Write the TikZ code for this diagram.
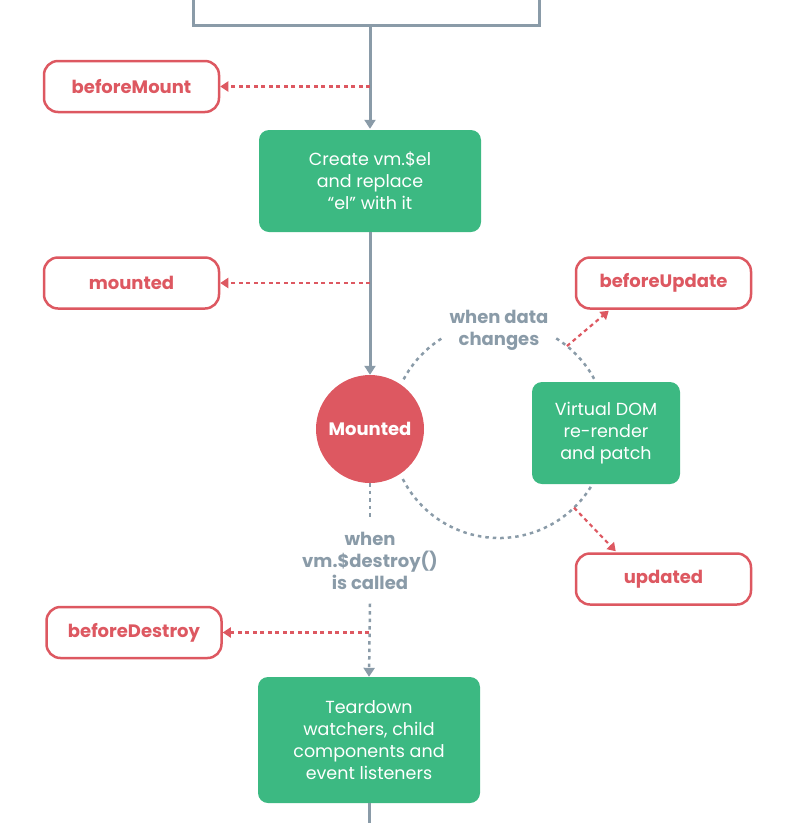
\documentclass[tikz,border=0pt]{standalone}
\usepackage{fontspec}
\setmainfont{Poppins}
\usetikzlibrary{arrows.meta,calc}

\definecolor{hookred}{RGB}{221,88,97}
\definecolor{stepgreen}{RGB}{60,185,130}
\definecolor{flowgray}{RGB}{138,155,168}

\begin{document}
\begin{tikzpicture}[x=1pt, y=-1pt,
  hook/.style={draw=hookred, line width=2.5pt, rounded corners=14pt,
    minimum width=175pt, minimum height=51pt, inner sep=0pt,
    text=hookred, font=\bfseries\fontsize{18}{20}\selectfont},
  stepbox/.style={fill=stepgreen, rounded corners=10pt, inner sep=0pt,
    text=white, align=center, font=\fontsize{17.5}{22}\selectfont},
  flowline/.style={draw=flowgray, line width=3pt},
  flowarrow/.style={flowline, -{Triangle[width=11pt,length=9pt]}},
  loopline/.style={draw=flowgray, line width=2.5pt, dash pattern=on 3.5pt off 4pt},
  hookarrow/.style={draw=hookred, line width=2.2pt, dash pattern=on 4pt off 3.5pt,
    -{Triangle[width=10pt,length=8pt]}},
  graylabel/.style={text=flowgray, align=center, inner sep=0pt,
    font=\bfseries\fontsize{18}{22}\selectfont}
]

\clip (0,0) rectangle (798,823);

% main column
\node[draw=flowgray, line width=3pt, minimum width=346pt, minimum height=60pt,
  anchor=south] (init) at (366,27) {};
\node[stepbox, minimum width=222pt, minimum height=102pt] (create) at (370,181)
  {Create vm.\$el\\and replace\\“el” with it};
\node[circle, fill=hookred, minimum size=108pt, inner sep=0pt, text=white,
  font=\bfseries\fontsize{18}{20}\selectfont] (mounted) at (370,429) {Mounted};
\node[stepbox, minimum width=222pt, minimum height=126pt] (teardown) at (369,740)
  {Teardown\\watchers, child\\components and\\event listeners};

% hooks
\node[hook] (bm) at (131.5,86.5) {beforeMount};
\node[hook] (md) at (131.5,283) {mounted};
\node[hook] (bd) at (134,632.5) {beforeDestroy};
\node[hook] (bu) at (663.5,283) {beforeUpdate};
\node[hook] (up) at (663.5,579) {updated};

% update loop
\coordinate (loop) at (499,430);
\node[stepbox, minimum width=148pt, minimum height=102pt] (vdom) at (606,433)
  {Virtual DOM\\re-render\\and patch};
\node[graylabel] (datalbl) at (499,330) {when data\\changes};

\draw[loopline] ($(loop)+(-152:108)$) arc[start angle=-152, end angle=-122, radius=108];
\draw[loopline] ($(loop)+(-58:108)$) arc[start angle=-58, end angle=-27.5, radius=108];
\draw[loopline] ($(loop)+(153:108)$) arc[start angle=153, end angle=30, radius=108];

\coordinate (bustart) at ($(loop)+(-51:108)$);
\coordinate (upstart) at ($(loop)+(46:108)$);
\draw[hookarrow] (bustart) -- ($(bu.south west)+(34,1)$);
\draw[hookarrow] (upstart) -- ($(up.north west)+(41,-1)$);

% destroy
\node[graylabel, inner sep=0pt, minimum height=85pt] (destroylbl) at (370,561)
  {when\\vm.\$destroy()\\is called};

% connectors
\draw[flowarrow] (create.north |- init.south) -- ($(create.north)+(0,-1)$);
\draw[flowarrow] (create.south) -- (mounted.north);
\draw[loopline] (mounted.south) -- (destroylbl.north);
\draw[loopline, -{Triangle[width=11pt,length=9pt]}] (destroylbl.south) -- (teardown.north);
\draw[flowline] (teardown.south) -- ++(0,30);

\draw[hookarrow] (bm.east -| create.north) -- (bm.east);
\draw[hookarrow] (md.east -| create.north) -- (md.east);
\draw[hookarrow] (bd.east -| teardown.north) -- (bd.east);

\end{tikzpicture}
\end{document}
